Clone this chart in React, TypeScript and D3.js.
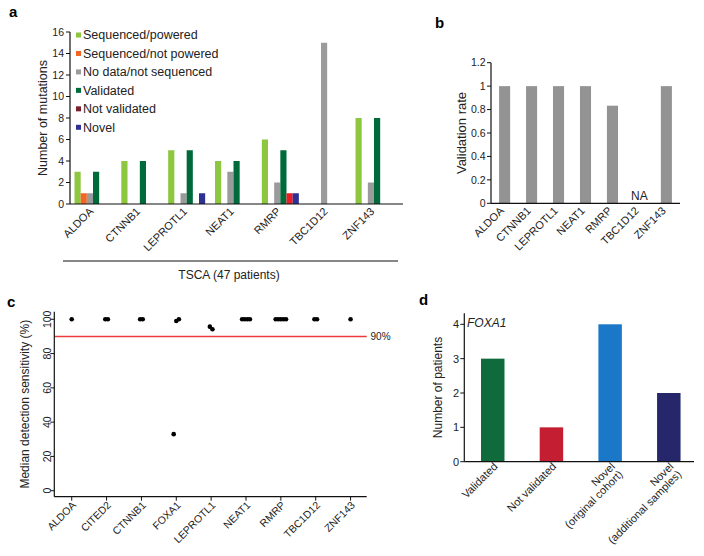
import React from "react";
import * as d3 from "d3";

// ---------- Panel a data ----------
const genesA = ["ALDOA", "CTNNB1", "LEPROTL1", "NEAT1", "RMRP", "TBC1D12", "ZNF143"];
const seriesA = [
  "Sequenced/powered",
  "Sequenced/not powered",
  "No data/not sequenced",
  "Validated",
  "Not validated",
  "Novel",
];
const seqPowered = [3, 4, 5, 4, 6, 0, 8];
const seqNotPowered = [1, 0, 0, 0, 0, 0, 0];
const noData = [1, 0, 1, 3, 2, 15, 2];
const validatedA = [3, 4, 5, 4, 5, 0, 8];
const notValidatedA = [0, 0, 0, 0, 1, 0, 0];
const novelA = [0, 0, 1, 0, 1, 0, 0];
const ticksA = [0, 2, 4, 6, 8, 10, 12, 14, 16];
const barColorsA = ["#8dc63f", "#f26522", "#9b9b9b", "#006b3a", "#ec1c24", "#2e3192"];
const legendColorsA = ["#8dc63f", "#f26522", "#9b9b9b", "#006b3a", "#7a1f2b", "#2e3192"];
const footerA = "TSCA (47 patients)";

// ---------- Panel b data ----------
const validationRate: (number | null)[] = [1, 1, 1, 1, 0.833, null, 1];
const ticksB = [0, 0.2, 0.4, 0.6, 0.8, 1, 1.2];

// ---------- Panel c data ----------
const genesC = ["ALDOA", "CITED2", "CTNNB1", "FOXA1", "LEPROTL1", "NEAT1", "RMRP", "TBC1D12", "ZNF143"];
const sensALDOA = [100];
const sensCITED2 = [100, 100];
const sensCTNNB1 = [100, 100];
const sensFOXA1 = [33, 99, 100];
const sensLEPROTL1 = [95.7, 94.2];
const sensNEAT1 = [100, 100, 100, 100];
const sensRMRP = [100, 100, 100, 100, 100];
const sensTBC1D12 = [100, 100];
const sensZNF143 = [100];
const sensByGene = [sensALDOA, sensCITED2, sensCTNNB1, sensFOXA1, sensLEPROTL1, sensNEAT1, sensRMRP, sensTBC1D12, sensZNF143];
const ticksC = [0, 20, 40, 60, 80, 100];
const thresholdC = 90;

// ---------- Panel d data ----------
const catsD = [["Validated"], ["Not validated"], ["Novel", "(original cohort)"], ["Novel", "(additional samples)"]];
const valuesD = [3, 1, 4, 2];
const colorsD = ["#0f6b3b", "#c41e32", "#1b77c8", "#25276a"];
const ticksD = [0, 1, 2, 3, 4];

const FONT = "'Liberation Sans', Arial, Helvetica, sans-serif";
const TXT = "#222";

function RotLabel({ x, y, lines, size, dy, lh }: { x: number; y: number; lines: string[]; size: number; dy: string; lh?: string }) {
  return (
    <text transform={`translate(${x},${y}) rotate(-45)`} textAnchor="end" fontSize={size} fill={TXT}>
      {lines.map((l, i) => (
        <tspan key={i} x={0} dy={i === 0 ? dy : lh || "1.1em"}>
          {l}
        </tspan>
      ))}
    </text>
  );
}

function PanelA() {
  const y = d3.scaleLinear().domain([0, 16]).range([204, 32]);
  const x = d3.scaleBand<string>().domain(genesA).range([70, 403]).paddingInner(0.21).paddingOuter(0.16).align(0.3);
  const inner = d3.scaleBand<number>().domain(d3.range(seriesA.length)).range([0, x.bandwidth()]);
  const data = [seqPowered, seqNotPowered, noData, validatedA, notValidatedA, novelA];
  const legendY = d3.scaleLinear().domain([0, 5]).range([35, 127.3]);
  return (
    <g>
      <text x={9} y={17} fontSize={15} fontWeight="bold" fill="#000">a</text>
      {genesA.map((g, gi) =>
        data.map((s, si) =>
          s[gi] > 0 ? (
            <rect key={g + si} x={(x(g) as number) + (inner(si) as number)} y={y(s[gi])} width={inner.bandwidth()} height={y(0) - y(s[gi])} fill={barColorsA[si]} />
          ) : null
        )
      )}
      <line x1={70} x2={70} y1={y(16)} y2={y(0)} stroke="#111" strokeWidth={1.2} />
      <line x1={70} x2={403} y1={y(0)} y2={y(0)} stroke="#111" strokeWidth={1.2} />
      {ticksA.map((t) => (
        <g key={t}>
          <line x1={66} x2={70} y1={y(t)} y2={y(t)} stroke="#111" strokeWidth={1} />
          <text x={64} y={y(t)} dy="0.35em" textAnchor="end" fontSize={10.5} fill={TXT}>{t}</text>
        </g>
      ))}
      <text transform={`translate(47,${(y(0) + y(16)) / 2}) rotate(-90)`} textAnchor="middle" fontSize={12.5} fill={TXT}>Number of mutations</text>
      {seriesA.map((s, i) => (
        <g key={s}>
          <rect x={76} y={legendY(i) - 2.5} width={5} height={5} fill={legendColorsA[i]} />
          <text x={83} y={legendY(i)} dy="0.35em" fontSize={12.5} fill={TXT}>{s}</text>
        </g>
      ))}
      {genesA.map((g) => (
        <RotLabel key={g} x={(x(g) as number) + x.bandwidth() / 2 - 2} y={y(0) + 5} lines={[g]} size={11} dy="0.4em" />
      ))}
      <line x1={63} x2={398} y1={261} y2={261} stroke="#111" strokeWidth={1.2} />
      <text x={229} y={279} textAnchor="middle" fontSize={12} fill={TXT}>{footerA}</text>
    </g>
  );
}

function PanelB() {
  const y = d3.scaleLinear().domain([0, 1.2]).range([203.3, 62.7]);
  const x = d3.scaleBand<string>().domain(genesA).range([491, 680]).paddingInner(0.59).paddingOuter(0.3);
  return (
    <g>
      <text x={435} y={28} fontSize={15} fontWeight="bold" fill="#000">b</text>
      {genesA.map((g, i) => {
        const v = validationRate[i];
        if (v === null) {
          return (
            <text key={g} x={(x(g) as number) + x.bandwidth() / 2} y={200} textAnchor="middle" fontSize={12} fill={TXT}>NA</text>
          );
        }
        return <rect key={g} x={x(g)} y={y(v)} width={x.bandwidth()} height={y(0) - y(v)} fill="#939393" />;
      })}
      <line x1={491} x2={491} y1={y(1.2)} y2={y(0)} stroke="#111" strokeWidth={1.2} />
      <line x1={491} x2={680} y1={y(0)} y2={y(0)} stroke="#111" strokeWidth={1.2} />
      {ticksB.map((t) => (
        <g key={t}>
          <line x1={487} x2={491} y1={y(t)} y2={y(t)} stroke="#111" strokeWidth={1} />
          <text x={485.5} y={y(t)} dy="0.35em" textAnchor="end" fontSize={10.5} fill={TXT}>{d3.format("~g")(t)}</text>
        </g>
      ))}
      <text transform={`translate(466,${(y(0) + y(1.2)) / 2}) rotate(-90)`} textAnchor="middle" fontSize={13} fill={TXT}>Validation rate</text>
      {genesA.map((g) => (
        <RotLabel key={g} x={(x(g) as number) + x.bandwidth() / 2 - 3} y={y(0) + 5} lines={[g]} size={11} dy="0.4em" />
      ))}
    </g>
  );
}

function PanelC() {
  const y = d3.scaleLinear().domain([0, 100]).range([490.7, 319.3]);
  const x = d3.scalePoint<string>().domain(genesC).range([54.3, 368]).padding(0.5);
  const axisY = 496.7;
  const spread = 2.6;
  return (
    <g>
      <text x={7} y={307} fontSize={15} fontWeight="bold" fill="#000">c</text>
      <line x1={54.3} x2={366.7} y1={y(thresholdC)} y2={y(thresholdC)} stroke="#ec3a3f" strokeWidth={1.6} />
      <text x={370.5} y={y(thresholdC)} dy="0.35em" fontSize={10} fill={TXT}>{thresholdC}%</text>
      {genesC.map((g, gi) => {
        const vals = sensByGene[gi];
        return vals.map((v, i) => (
          <circle key={g + i} cx={(x(g) as number) + (i - (vals.length - 1) / 2) * spread} cy={y(v)} r={2.3} fill="#000" />
        ));
      })}
      <line x1={54.3} x2={54.3} y1={311.7} y2={axisY} stroke="#111" strokeWidth={1.2} />
      <line x1={54.3} x2={366.7} y1={axisY} y2={axisY} stroke="#111" strokeWidth={1.2} />
      {ticksC.map((t) => (
        <g key={t}>
          <line x1={50.3} x2={54.3} y1={y(t)} y2={y(t)} stroke="#111" strokeWidth={1} />
          <text transform={`translate(50.5,${y(t)}) rotate(-90)`} textAnchor="middle" fontSize={10.5} fill={TXT}>{t}</text>
        </g>
      ))}
      {genesC.map((g) => (
        <g key={g}>
          <line x1={x(g)} x2={x(g)} y1={axisY} y2={axisY + 4} stroke="#111" strokeWidth={1} />
          <RotLabel x={(x(g) as number) + 1} y={axisY + 5} lines={[g]} size={10.5} dy="0.55em" />
        </g>
      ))}
      <text transform={`translate(29,${(311.7 + axisY) / 2}) rotate(-90)`} textAnchor="middle" fontSize={12} fill={TXT}>Median detection sensitivity (%)</text>
    </g>
  );
}

function PanelD() {
  const y = d3.scaleLinear().domain([0, 4]).range([461.7, 324.3]);
  const keys = catsD.map((c) => c.join(" "));
  const x = d3.scaleBand<string>().domain(keys).range([464.3, 694]).paddingInner(0.6).paddingOuter(0.257).align(0.554);
  return (
    <g>
      <text x={419} y={305} fontSize={15} fontWeight="bold" fill="#000">d</text>
      {keys.map((k, i) => (
        <rect key={k} x={x(k)} y={y(valuesD[i])} width={x.bandwidth()} height={y(0) - y(valuesD[i])} fill={colorsD[i]} />
      ))}
      <line x1={464.3} x2={464.3} y1={313.3} y2={y(0)} stroke="#111" strokeWidth={1.2} />
      <line x1={464.3} x2={694} y1={y(0)} y2={y(0)} stroke="#111" strokeWidth={1.2} />
      {ticksD.map((t) => (
        <g key={t}>
          <line x1={460.3} x2={464.3} y1={y(t)} y2={y(t)} stroke="#111" strokeWidth={1} />
          <text x={459} y={y(t)} dy="0.35em" textAnchor="end" fontSize={11} fill={TXT}>{t}</text>
        </g>
      ))}
      <text x={467} y={327} fontSize={12} fontStyle="italic" fill={TXT}>FOXA1</text>
      <text transform={`translate(442,${(y(0) + 313.3) / 2}) rotate(-90)`} textAnchor="middle" fontSize={12} fill={TXT}>Number of patients</text>
      {keys.map((k, i) => (
        <RotLabel key={k} x={(x(k) as number) + x.bandwidth() / 2 + 2} y={y(0) + 2} lines={catsD[i]} size={11} dy="0.45em" lh="1.0em" />
      ))}
    </g>
  );
}

export default function App() {
  return (
    <svg width={704} height={556} style={{ position: "absolute", left: 0, top: 0, background: "#fff" }} fontFamily={FONT}>
      <rect width={704} height={556} fill="#fff" />
      <PanelA />
      <PanelB />
      <PanelC />
      <PanelD />
    </svg>
  );
}
